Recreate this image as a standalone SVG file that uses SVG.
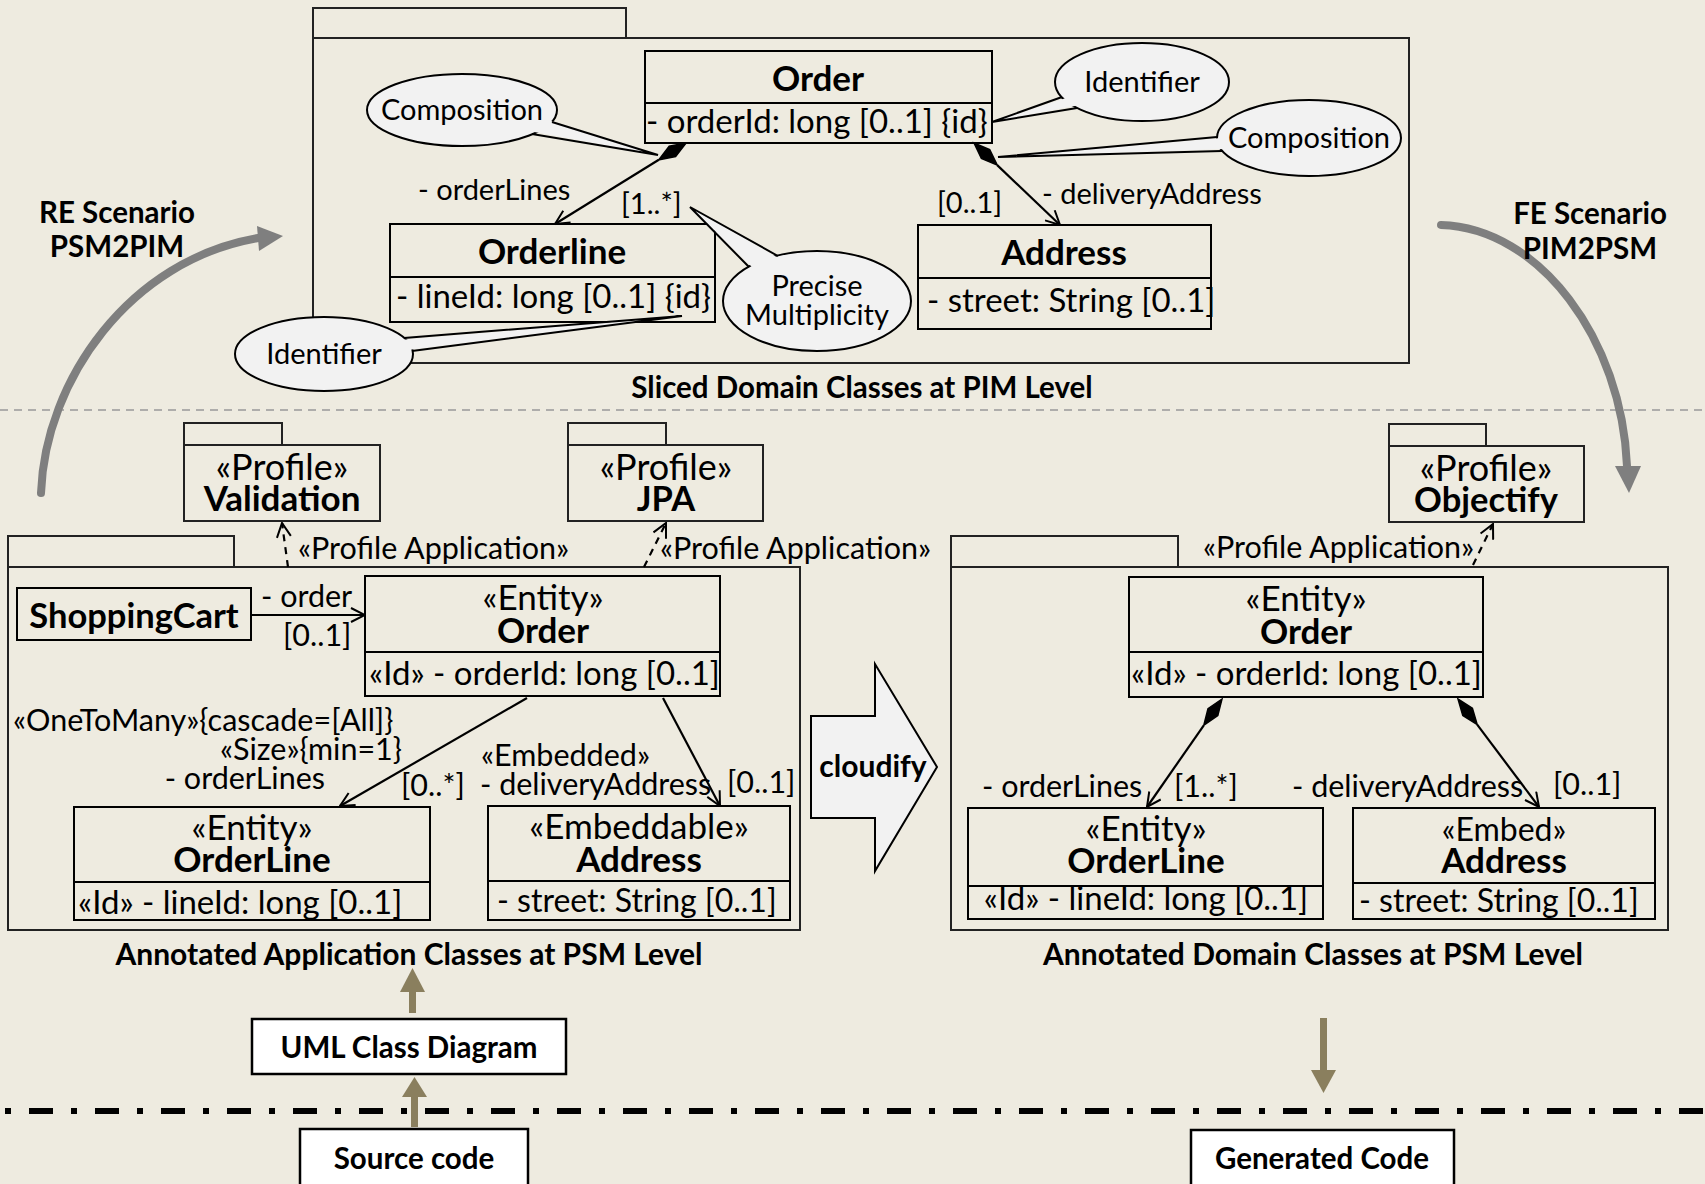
<svg xmlns="http://www.w3.org/2000/svg" width="1705" height="1184" viewBox="0 0 1705 1184">
<style>
text{font-family:Lato,"Liberation Sans",sans-serif;fill:#000}
.r29{font-size:29px}.r30{font-size:30.5px}.r32{font-size:32px}.r33{font-size:33px}.s35{font-size:35px}.s36{font-size:36px}
.b29{font-size:29.5px;font-weight:bold}.b30{font-size:30px;font-weight:bold}.b34{font-size:34.5px;font-weight:bold}.b35{font-size:35px;font-weight:bold}
.m{text-anchor:middle}.e{text-anchor:end}
.box{fill:none;stroke:#000;stroke-width:2}
.pkg{fill:none;stroke:#222;stroke-width:2}
.ell{fill:#F2F2F2;stroke:#000;stroke-width:2}
.tailf{fill:#F2F2F2;stroke:none}
.tl{stroke:#000;stroke-width:2;fill:none}
.ln{stroke:#000;stroke-width:2.2;fill:none}
.dash{stroke:#000;stroke-width:2.2;fill:none;stroke-dasharray:7 6}
.dia{fill:#000;stroke:#000;stroke-width:1.5}
.arc{fill:none;stroke:#7F7F7F;stroke-width:8;stroke-linecap:round}
.olive{fill:#8A7F5E}
.wbox{fill:#fff;stroke:#000;stroke-width:2.5}
</style>
<defs>
<marker id="open" viewBox="0 0 16 16" refX="15" refY="8" markerWidth="16" markerHeight="16" markerUnits="userSpaceOnUse" orient="auto">
<path d="M1,1 L15,8 L1,15" fill="none" stroke="#000" stroke-width="2"/>
</marker>
</defs>
<rect width="1705" height="1184" fill="#EEEBE0"/>

<!-- separators -->
<line x1="0" y1="410" x2="1705" y2="410" stroke="#999" stroke-width="1.5" stroke-dasharray="8 6"/>
<line x1="5" y1="1111" x2="1705" y2="1111" stroke="#000" stroke-width="6" stroke-dasharray="6 18 24 18"/>

<!-- top package -->
<g id="pim-package">
<rect class="pkg" x="313" y="8" width="313" height="30"/>
<rect class="pkg" x="313" y="38" width="1096" height="325"/>
<text class="b29 m" x="862" y="398">Sliced Domain Classes at PIM Level</text>
</g>

<g id="pim-order">
<rect class="box" x="645" y="51" width="347" height="92"/>
<line class="box" x1="645" y1="103" x2="992" y2="103"/>
<text class="b35 m" x="818" y="91">Order</text>
<text class="r33" x="646" y="133">- orderId: long [0..1] {id}</text>
</g>
<g id="pim-orderline">
<rect class="box" x="390" y="224" width="325" height="98"/>
<line class="box" x1="390" y1="277" x2="715" y2="277"/>
<text class="b35 m" x="552" y="264">Orderline</text>
<text class="r33" x="396" y="308">- lineId: long [0..1] {id}</text>
</g>
<g id="pim-address">
<rect class="box" x="918" y="225" width="293" height="104"/>
<line class="box" x1="918" y1="278" x2="1211" y2="278"/>
<text class="b35 m" x="1064" y="265">Address</text>
<text class="r33" x="927" y="312">- street: String [0..1]</text>
</g>

<!-- callouts -->
<g id="callout-composition-left">
<ellipse class="ell" cx="462" cy="110" rx="95" ry="36"/>
<polygon class="tailf" points="548,120 529,131 658,155"/>
<polyline class="tl" points="552,122 658,155 532,134"/>
<text class="r29 m" x="462" y="120">Composition</text>
</g>
<g id="callout-identifier-right">
<ellipse class="ell" cx="1142" cy="82" rx="87" ry="39"/>
<polygon class="tailf" points="1066,98 1080,105 992,122"/>
<polyline class="tl" points="1062,97 992,122 1077,108"/>
<text class="r29 m" x="1142" y="92">Identifier</text>
</g>
<g id="callout-composition-right">
<ellipse class="ell" cx="1309" cy="138" rx="92" ry="38"/>
<polygon class="tailf" points="1221,138 1225,149 998,157"/>
<polyline class="tl" points="1217,137 998,157 1222,151"/>
<text class="r29 m" x="1309" y="148">Composition</text>
</g>
<g id="callout-precise">
<ellipse class="ell" cx="817" cy="301" rx="94" ry="50"/>
<polygon class="tailf" points="753,268 780,259 690,207"/>
<polyline class="tl" points="749,267 690,207 778,256"/>
<text class="r29 m" x="817" y="296">Precise</text>
<text class="r29 m" x="817" y="325">Multiplicity</text>
</g>
<g id="callout-identifier-left">
<ellipse class="ell" cx="324" cy="354" rx="89" ry="37"/>
<polygon class="tailf" points="400,340 408,350 682,316"/>
<polyline class="tl" points="404,338 682,316 412,351"/>
<text class="r29 m" x="324" y="364">Identifier</text>
</g>

<!-- scenario arcs -->
<g id="re-scenario">
<path class="arc" d="M41,493 C45,380 130,260 258,238"/>
<polygon fill="#7F7F7F" points="283,236 257,226 259,251"/>
<text class="b29 m" x="117" y="223">RE Scenario</text>
<text class="b29 m" x="117" y="257">PSM2PIM</text>
</g>
<g id="fe-scenario">
<path class="arc" d="M1441,225 C1540,228 1622,340 1627,466"/>
<polygon fill="#7F7F7F" points="1629,493 1615,466 1641,466"/>
<text class="b29 m" x="1590" y="224">FE Scenario</text>
<text class="b29 m" x="1590" y="259">PIM2PSM</text>
</g>

<!-- profiles -->
<g id="profile-validation">
<rect class="pkg" x="184" y="423" width="98" height="22"/>
<rect class="pkg" x="184" y="445" width="196" height="76"/>
<text class="s36 m" x="282" y="480">«Profile»</text>
<text class="b35 m" x="282" y="511">Validation</text>
</g>
<g id="profile-jpa">
<rect class="pkg" x="568" y="423" width="98" height="22"/>
<rect class="pkg" x="568" y="445" width="195" height="76"/>
<text class="s36 m" x="666" y="480">«Profile»</text>
<text class="b34 m" x="666" y="511">JPA</text>
</g>
<g id="profile-objectify">
<rect class="pkg" x="1389" y="424" width="97" height="22"/>
<rect class="pkg" x="1389" y="446" width="195" height="76"/>
<text class="s36 m" x="1486" y="481">«Profile»</text>
<text class="b34 m" x="1486" y="512">Objectify</text>
</g>

<!-- left PSM package -->
<g id="psm-app-package">
<rect class="pkg" x="8" y="536" width="226" height="31"/>
<rect class="pkg" x="8" y="567" width="792" height="363"/>
<text class="b30 m" x="409" y="965">Annotated Application Classes at PSM Level</text>
</g>
<g id="psm-shoppingcart">
<rect class="box" x="17" y="588" width="234" height="52"/>
<text class="b34 m" x="134" y="628">ShoppingCart</text>
</g>
<g id="psm-app-order">
<rect class="box" x="365" y="576" width="355" height="120"/>
<line class="box" x1="365" y1="652" x2="720" y2="652"/>
<text class="s35 m" x="543" y="610">«Entity»</text>
<text class="b35 m" x="543" y="643">Order</text>
<text class="r33" x="369" y="685">«Id» - orderId: long [0..1]</text>
</g>
<g id="psm-app-orderline">
<rect class="box" x="74" y="807" width="356" height="113"/>
<line class="box" x1="74" y1="882" x2="430" y2="882"/>
<text class="s35 m" x="252" y="840">«Entity»</text>
<text class="b35 m" x="252" y="872">OrderLine</text>
<text class="r33" x="78" y="914">«Id» - lineId: long [0..1]</text>
</g>
<g id="psm-app-address">
<rect class="box" x="488" y="806" width="302" height="114"/>
<line class="box" x1="488" y1="881" x2="790" y2="881"/>
<text class="s35 m" x="639" y="839">«Embeddable»</text>
<text class="b35 m" x="639" y="872">Address</text>
<text class="r32" x="497" y="912">- street: String [0..1]</text>
</g>

<!-- cloudify -->
<g id="cloudify">
<polygon fill="#F2F2F2" stroke="#000" stroke-width="2" points="811,716 875,716 875,664 937,767 875,871 875,818 811,818"/>
<text class="b30 m" x="873" y="777">cloudify</text>
</g>

<!-- right PSM package -->
<g id="psm-domain-package">
<rect class="pkg" x="951" y="536" width="227" height="31"/>
<rect class="pkg" x="951" y="567" width="717" height="363"/>
<text class="b30 m" x="1313" y="965">Annotated Domain Classes at PSM Level</text>
</g>
<g id="psm-dom-order">
<rect class="box" x="1129" y="577" width="354" height="120"/>
<line class="box" x1="1129" y1="652" x2="1483" y2="652"/>
<text class="s35 m" x="1306" y="611">«Entity»</text>
<text class="b35 m" x="1306" y="644">Order</text>
<text class="r33" x="1131" y="685">«Id» - orderId: long [0..1]</text>
</g>
<g id="psm-dom-orderline">
<rect class="box" x="968" y="808" width="355" height="111"/>
<line class="box" x1="968" y1="886" x2="1323" y2="886"/>
<text class="s35 m" x="1146" y="841">«Entity»</text>
<text class="b35 m" x="1146" y="873">OrderLine</text>
<text class="r33 m" x="1146" y="910">«Id» - lineId: long [0..1]</text>
</g>
<g id="psm-dom-address">
<rect class="box" x="1353" y="808" width="302" height="111"/>
<line class="box" x1="1353" y1="883" x2="1655" y2="883"/>
<text class="r32 m" x="1504" y="841">«Embed»</text>
<text class="b35 m" x="1504" y="873">Address</text>
<text class="r32" x="1359" y="912">- street: String [0..1]</text>
</g>

<!-- bottom boxes -->
<g id="uml-class-diagram">
<rect class="wbox" x="252" y="1019" width="314" height="55"/>
<text class="b29 m" x="409" y="1058">UML Class Diagram</text>
</g>
<g id="source-code">
<rect class="wbox" x="300" y="1129" width="228" height="70"/>
<text class="b29 m" x="414" y="1169">Source code</text>
</g>
<g id="generated-code">
<rect class="wbox" x="1191" y="1130" width="263" height="70"/>
<text class="b29 m" x="1322" y="1169">Generated Code</text>
</g>

<!-- connectors -->
<g id="connectors">
<polygon class="dia" points="686,143 669.2,146.3 658.8,159.8 675.6,156.5"/>
<line class="ln" x1="658.8" y1="159.8" x2="555" y2="224" marker-end="url(#open)"/>
<polygon class="dia" points="974,143 981.4,158.4 997.2,165.1 989.7,149.7"/>
<line class="ln" x1="997.2" y1="165.1" x2="1060" y2="225" marker-end="url(#open)"/>
<text class="r29" x="418" y="200">- orderLines</text>
<text class="r29" x="621" y="214">[1..*]</text>
<text class="r29" x="937" y="213">[0..1]</text>
<text class="r29" x="1042" y="204">- deliveryAddress</text>

<line class="dash" x1="288" y1="567" x2="282" y2="523" marker-end="url(#open)"/>
<line class="dash" x1="644" y1="567" x2="666" y2="523" marker-end="url(#open)"/>
<line class="dash" x1="1473" y1="565" x2="1493" y2="524" marker-end="url(#open)"/>
<text class="r30" x="298" y="559">«Profile Application»</text>
<text class="r30" x="660" y="559">«Profile Application»</text>
<text class="r30" x="1203" y="558">«Profile Application»</text>

<line class="ln" x1="251" y1="615" x2="365" y2="615" marker-end="url(#open)"/>
<text class="r30" x="261" y="607">- order</text>
<text class="r30" x="283" y="646">[0..1]</text>
<line class="ln" x1="527" y1="698" x2="340" y2="806" marker-end="url(#open)"/>
<line class="ln" x1="663" y1="698" x2="720" y2="806" marker-end="url(#open)"/>
<text class="r30" x="13" y="731">«OneToMany»{cascade=[All]}</text>
<text class="r30 e" x="402" y="760">«Size»{min=1}</text>
<text class="r30 e" x="325" y="789">- orderLines</text>
<text class="r30" x="401" y="796">[0..*]</text>
<text class="r30" x="481" y="766">«Embedded»</text>
<text class="r30" x="480" y="795">- deliveryAddress</text>
<text class="r30" x="727" y="793">[0..1]</text>

<polygon class="dia" points="1222,699 1208,708.7 1203.8,725.3 1217.8,715.5"/>
<line class="ln" x1="1203.8" y1="725.3" x2="1147" y2="807" marker-end="url(#open)"/>
<polygon class="dia" points="1458,699 1462.8,715.4 1477.2,724.6 1472.4,708.2"/>
<line class="ln" x1="1477.2" y1="724.6" x2="1539" y2="807" marker-end="url(#open)"/>
<text class="r30" x="982" y="797">- orderLines</text>
<text class="r30" x="1174" y="797">[1..*]</text>
<text class="r30" x="1292" y="797">- deliveryAddress</text>
<text class="r30" x="1553" y="795">[0..1]</text>

<rect class="olive" x="409" y="990" width="7" height="23"/>
<polygon class="olive" points="412.5,968 400,992 425,992"/>
<rect class="olive" x="411" y="1095" width="7" height="32"/>
<polygon class="olive" points="414.5,1077 402,1097 427,1097"/>
<rect class="olive" x="1320" y="1018" width="7" height="54"/>
<polygon class="olive" points="1323.5,1093 1311,1070 1336,1070"/>
</g>
</svg>
